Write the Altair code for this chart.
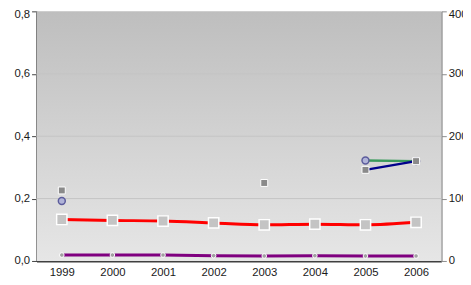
import altair as alt
import pandas as pd

years = ["1999", "2000", "2001", "2002", "2003", "2004", "2005", "2006"]
red_vals = [0.133, 0.130, 0.128, 0.122, 0.116, 0.118, 0.116, 0.124]
purple_vals = [0.019, 0.019, 0.019, 0.017, 0.016, 0.017, 0.016, 0.016]
green_vals = [96, None, None, None, None, None, 161, 160]
blue_vals = [113, None, None, None, 125, None, 146, 160]
left_ticks = [0, 0.2, 0.4, 0.6, 0.8]
right_ticks = [0, 100, 200, 300, 400]
grid_vals = [0.2, 0.4, 0.6]

W, H = 412, 254
FONT = "Liberation Sans"

df = pd.DataFrame({
    "year": years,
    "red": red_vals,
    "purple": purple_vals,
    "green": green_vals,
    "blue": blue_vals,
})

x_enc = alt.X(
    "year:O",
    scale=alt.Scale(padding=0.5),
    axis=alt.Axis(
        title=None, labelAngle=0, ticks=False, domainColor="#404040", domainWidth=2,
        labelFont=FONT, labelFontSize=11.5, labelColor="#1a1a1a", labelPadding=6,
    ),
)

left_scale = alt.Scale(domain=[0, 0.8], nice=False, zero=True)
left_axis = alt.Axis(
    title=None, values=left_ticks, format=".1f",
    labelExpr="replace(datum.label, '.', ',')",
    labelOffset={"condition": {"test": "datum.value >= 0.8", "value": 3}, "value": 0},
    grid=False, domainColor="#404040", domainWidth=2, tickColor="#404040",
    tickSize=5, tickWidth=1, labelPadding=2,
    labelFont=FONT, labelFontSize=11.5, labelColor="#1a1a1a",
)
right_scale = alt.Scale(domain=[0, 400], nice=False, zero=True)
right_axis = alt.Axis(
    orient="right", title=None, values=right_ticks, format="d",
    labelOffset={"condition": {"test": "datum.value >= 400", "value": 3}, "value": 0},
    grid=False, domainColor="#8a8a8a", domainWidth=1.5, tickColor="#8a8a8a",
    tickSize=5, labelPadding=2,
    labelFont=FONT, labelFontSize=11.5, labelColor="#1a1a1a",
)

gradient = alt.LinearGradient(
    gradient="linear",
    stops=[alt.GradientStop(color="#bebebe", offset=0),
           alt.GradientStop(color="#e6e6e6", offset=1)],
    x1=0, x2=0, y1=0, y2=1,
)

bg = alt.Chart(pd.DataFrame({"a": [0]})).mark_rect(color=gradient).encode(
    x=alt.value(0), x2=alt.value(W), y=alt.value(0), y2=alt.value(H)
)

grid = alt.Chart(pd.DataFrame({"g": grid_vals})).mark_rule(color="#c4c4c4", strokeWidth=1).encode(
    y=alt.Y("g:Q", scale=left_scale, axis=left_axis)
)

base = alt.Chart(df)

red_line = base.mark_line(color="#ff0000", strokeWidth=3, interpolate="monotone").encode(
    x=x_enc, y=alt.Y("red:Q", scale=left_scale, axis=left_axis)
)
red_pts = base.mark_square(size=110, fill="#c4c4c4", stroke="white", strokeWidth=1.5, opacity=1).encode(
    x=x_enc, y=alt.Y("red:Q", scale=left_scale, axis=left_axis)
)
purple_line = base.mark_line(color="#800080", strokeWidth=3).encode(
    x=x_enc, y=alt.Y("purple:Q", scale=left_scale, axis=left_axis)
)
purple_pts = base.mark_point(shape="circle", size=22, filled=True, fill="#a0a0a0", stroke="white",
                             strokeWidth=1, opacity=1).encode(
    x=x_enc, y=alt.Y("purple:Q", scale=left_scale, axis=left_axis)
)

left = alt.layer(bg, grid, red_line, red_pts, purple_line, purple_pts)

green_line = base.mark_line(color="#3a9a5c", strokeWidth=2.5, invalid="break-paths-show-domains").encode(
    x=x_enc, y=alt.Y("green:Q", scale=right_scale, axis=right_axis)
)
blue_line = base.mark_line(color="#00008b", strokeWidth=2.5, invalid="break-paths-show-domains").encode(
    x=x_enc, y=alt.Y("blue:Q", scale=right_scale, axis=right_axis)
)
green_pts = base.mark_point(shape="circle", size=50, filled=True, fill="#b0b3d8", stroke="#5c5c9c",
                            strokeWidth=1.5, opacity=1).encode(
    x=x_enc, y=alt.Y("green:Q", scale=right_scale, axis=right_axis)
)
blue_pts = base.mark_square(size=50, fill="#8a8a8a", stroke="white", strokeWidth=1, opacity=1).encode(
    x=x_enc, y=alt.Y("blue:Q", scale=right_scale, axis=right_axis)
)

right = alt.layer(green_line, blue_line, green_pts, blue_pts)

chart = alt.layer(left, right).resolve_scale(y="independent").properties(
    width=W, height=H,
    padding={"left": 29, "top": 1, "right": 22, "bottom": 20},
    autosize=alt.AutoSizeParams(type="none"),
    background="white",
).configure_view(stroke=None)

chart.save("out.html", embed_options={"renderer": "svg", "actions": False})
